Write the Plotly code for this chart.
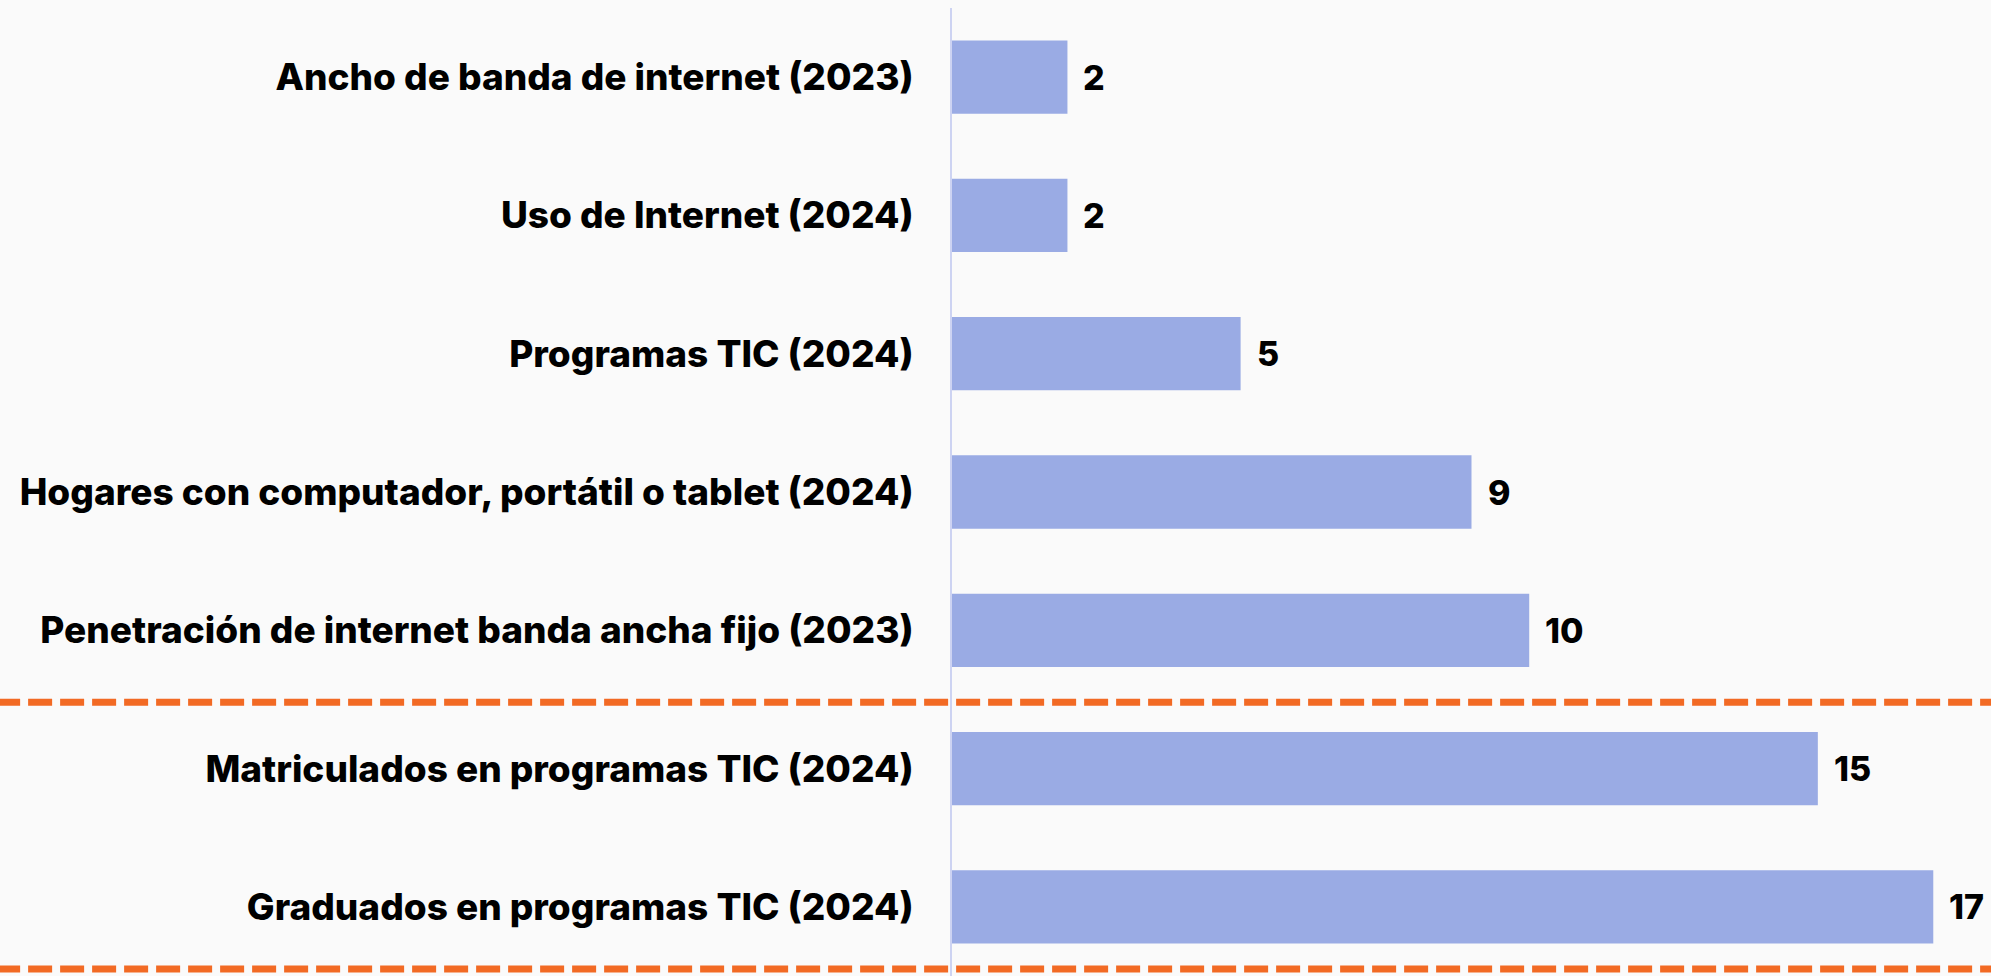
import plotly.graph_objects as go

categories = [
    "Ancho de banda de internet (2023)",
    "Uso de Internet (2024)",
    "Programas TIC (2024)",
    "Hogares con computador, portátil o tablet (2024)",
    "Penetración de internet banda ancha fijo (2023)",
    "Matriculados en programas TIC (2024)",
    "Graduados en programas TIC (2024)",
]
values = [2, 2, 5, 9, 10, 15, 17]
value_labels = [str(v) for v in values]

BAR = "#9AABE4"
ORANGE = "#F26A24"
BG = "#FAFAFA"
FONT = "Inter"

fig = go.Figure(go.Bar(
    y=categories, x=values, orientation="h",
    marker=dict(color=BAR, line=dict(width=0)),
    width=0.53,
    cliponaxis=False,
    hoverinfo="x+y",
))

for c, v, t in zip(categories, values, value_labels):
    fig.add_annotation(x=v, y=c, text=t, showarrow=False, xanchor="left",
                       xshift=14, yshift=0,
                       font=dict(family=FONT, size=34, color="#000000", weight=800))

# dashed separators (between groups and at the bottom)
for yv in [4.52, 6.45]:
    fig.add_shape(type="line", xref="paper", yref="y",
                  x0=-0.92, x1=1.0, y0=yv, y1=yv,
                  line=dict(color=ORANGE, width=7, dash="24px,8px"))

fig.update_layout(
    width=1991, height=976,
    margin=dict(l=952, r=0, t=8, b=0),
    paper_bgcolor=BG, plot_bgcolor=BG,
    showlegend=False,
    xaxis=dict(range=[0, 18], visible=False, fixedrange=True),
    yaxis=dict(autorange="reversed", showline=True, linecolor="#CDD3F2", linewidth=2,
               ticks="outside", ticklen=29, tickcolor="rgba(0,0,0,0)",
               tickfont=dict(family=FONT, size=37, color="#000000", weight=800),
               showgrid=False, zeroline=False),
    font=dict(family=FONT),
)

fig.write_html("out.html", config={"displayModeBar": False},
               post_script="document.body.style.margin='0';document.body.style.background='#FAFAFA';")
